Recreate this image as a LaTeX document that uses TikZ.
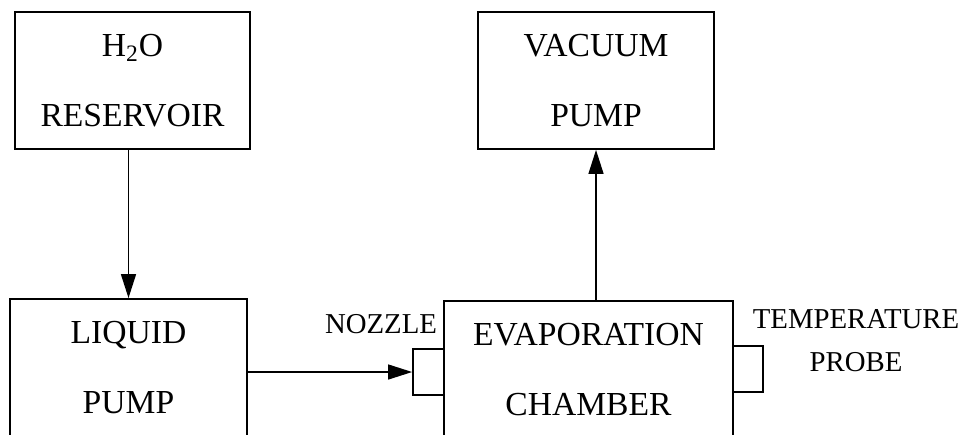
\documentclass[tikz,border=0pt]{standalone}
\usepackage{fontspec}
\setmainfont{Liberation Serif}
\usetikzlibrary{arrows.meta}
\tikzset{
  caja/.style={draw, line width=0.9pt, align=center, inner sep=0pt,
    font=\fontsize{16.8}{35}\selectfont},
  conector/.style={draw, line width=0.9pt, minimum width=15.5pt, minimum height=23pt, inner sep=0pt},
  etiqueta/.style={align=center, inner sep=0pt, font=\fontsize{14.4}{21.5}\selectfont},
  flujo/.style={line width=0.7pt, -{Triangle[length=12pt,width=7.5pt]}}
}
\begin{document}
\begin{tikzpicture}[x=0.5pt,y=-0.5pt]
        % Marco del dibujo
        \useasboundingbox (0,0) rectangle (967,434);
        \clip (0,0) rectangle (967,434);

        % Cajas superiores
        \node[caja, minimum width=117.5pt, minimum height=68.5pt] (res) at (132.5,80.5) {H\textsubscript{2}O\\RESERVOIR};
        \node[caja, minimum width=118pt, minimum height=68.5pt] (vac) at (596,80.5) {VACUUM\\PUMP};

        % Cajas inferiores (cortadas por el borde)
        \node[caja, minimum width=118.5pt, minimum height=68.5pt] (liq) at (128.5,367.5) {LIQUID\\PUMP};
        \node[caja, minimum width=144.5pt, minimum height=68.5pt] (cam) at (588.5,369.5) {EVAPORATION\\CHAMBER};

        % Boquilla y sonda de temperatura
        \node[conector] (noz) at (428.5,372) {};
        \node[conector, minimum width=15pt] (sonda) at (748,369) {};

        % Etiquetas
        \node[etiqueta, anchor=base] (lnoz) at (381,333) {NOZZLE};
        \node[etiqueta] (lsonda) at (856,341) {TEMPERATURE\\PROBE};

        % Flechas
        \draw[flujo] (res.south -| liq.north) -- (liq.north);
        \draw[flujo] (liq.east |- noz.west) -- (noz.west);
        \draw[flujo] (cam.north -| vac.south) -- (vac.south);
\end{tikzpicture}
\end{document}
